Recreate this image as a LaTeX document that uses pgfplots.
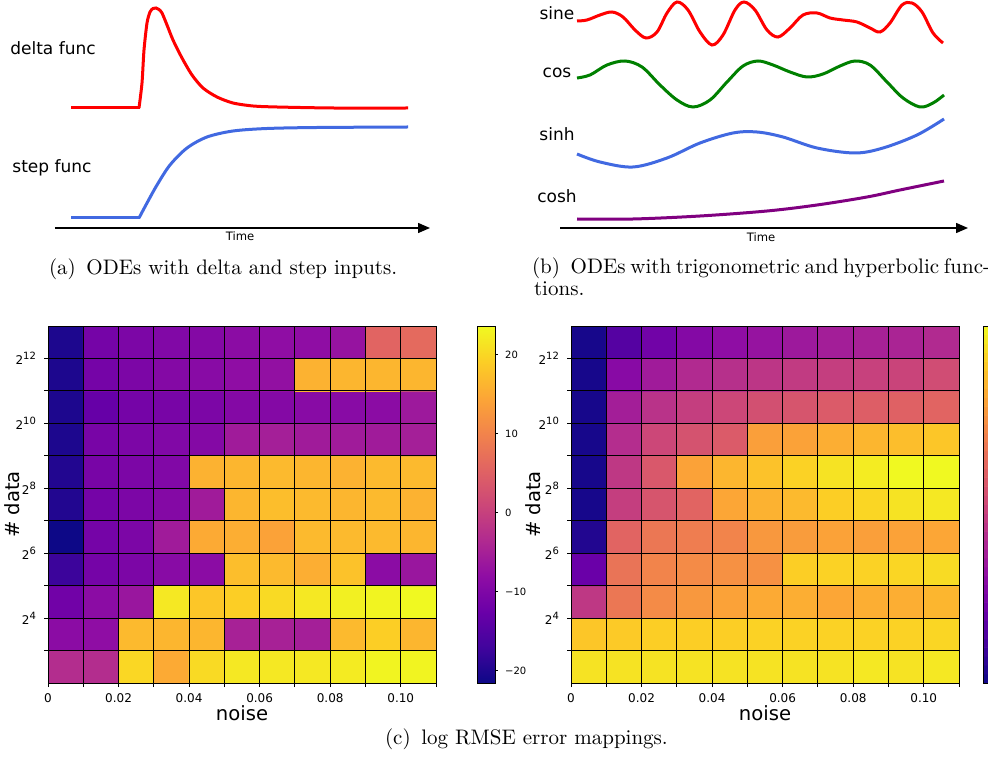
\documentclass[border=0pt]{standalone}
\usepackage{fontspec}
\usepackage{pgfplots}
\pgfplotsset{compat=1.18}
\usetikzlibrary{arrows.meta}
\newfontfamily\dv{DejaVu Sans}
\definecolor{royal}{RGB}{65,105,225}
\definecolor{dgreen}{RGB}{0,128,0}
\definecolor{purp}{RGB}{128,0,128}
\tikzset{
  lbl/.style={font=\dv\fontsize{8.5}{10}\selectfont},
  tlbl/.style={font=\dv\fontsize{5.8}{7}\selectfont},
}
\pgfplotsset{
  colormap={plasma}{rgb255=(13,8,135) rgb255=(65,4,157) rgb255=(106,0,168) rgb255=(143,13,164) rgb255=(177,42,144) rgb255=(204,71,120) rgb255=(225,100,98) rgb255=(242,132,75) rgb255=(252,166,54) rgb255=(252,206,37) rgb255=(240,249,33)},
  curvepanel/.style={scale only axis, height=114pt, ymin=0, ymax=228, clip=false,
    axis x line=bottom, axis y line=none, xtick=\empty, ytick=\empty,
    x axis line style={line width=0.7pt, -{Triangle[length=6pt,width=5pt]}}},
  heat/.style={scale only axis, width=194pt, height=178.5pt,
    xmin=0, xmax=0.11, ymin=2, ymax=13, axis on top, enlargelimits=false,
    xtick={0,0.02,0.04,0.06,0.08,0.10}, xticklabels={0,0.02,0.04,0.06,0.08,0.10},
    minor xtick={0.01,0.03,0.05,0.07,0.09,0.11},
    ytick={4,6,8,10,12},
    yticklabels={2\textsuperscript{4},2\textsuperscript{6},2\textsuperscript{8},2\textsuperscript{10},2\textsuperscript{12}},
    minor ytick={3,5,7,9,11},
    grid=both, grid style={black, line width=0.5pt}, minor grid style={black, line width=0.5pt},
    tick align=outside, xtick pos=left, ytick pos=left,
    major tick length=2pt, minor tick length=2pt,
    tick style={black, line width=0.5pt}, axis line style={line width=0.5pt},
    ticklabel style={font=\dv\fontsize{6}{7}\selectfont},
    xlabel={noise}, ylabel={\# data},
    label style={font=\dv\fontsize{9.8}{11}\selectfont},
    xlabel style={at={(axis description cs:0.5,-0.084)}, anchor=center}},
}
\begin{document}
\begin{tikzpicture}
\path[use as bounding box] (0,0) rectangle (494pt,-382pt);

% ---------- (a) ----------
\begin{axis}[curvepanel, at={(27.5pt,-114pt)}, anchor=south west, width=187.5pt, xmin=55, xmax=430]
\addplot[red, line width=1.5pt] coordinates {(71,120) (139.5,120)};
\addplot[red, line width=1.5pt, smooth, tension=0.45] coordinates {
(139,120) (142,145) (144,178) (147,205) (150,216) (153,219.5) (156,220) (159,218.5) (162,215)
(167,203) (173,188) (182,170) (192,153) (203,140) (217,131) (233,125) (253,122) (277,121) (333,120) (408,120)};
\addplot[royal, line width=1.5pt] coordinates {(71,10) (139.5,10)};
\addplot[royal, line width=1.5pt, smooth, tension=0.5] coordinates {
(139,10) (147,25) (157,43) (170,63) (187,80) (207,91) (233,97) (267,99.5) (317,100.5) (408,101)};
\node[lbl] at (axis cs:53,180) {delta func};
\node[lbl] at (axis cs:52,60) {step func};
\node[tlbl] at (axis cs:240,-8) {Time};
\end{axis}

% ---------- (b) ----------
\begin{axis}[curvepanel, at={(280pt,-114pt)}, anchor=south west, width=204pt, xmin=560, xmax=968]
\addplot[red, line width=1.5pt, smooth, tension=0.55] coordinates {
(577,207) (587,208) (600,213) (612,216) (623,211) (635,198) (646,190) (657,196) (667,215) (677,226)
(688,218) (700,196) (712,183) (723,193) (735,218) (744,226) (755,218) (767,198) (778,191) (790,200)
(803,213) (817,215) (830,210) (843,208) (857,206) (870,200) (880,196) (890,205) (902,223) (912,225)
(922,216) (933,195) (943,185)};
\addplot[dgreen, line width=1.5pt, smooth, tension=0.55] coordinates {
(577,150) (590,153) (607,163) (625,167) (642,161) (660,143) (677,128) (693,121) (710,128) (727,146)
(743,162) (758,167) (773,163) (790,156) (807,151) (823,154) (840,162) (855,167) (870,163) (887,146)
(903,130) (920,121) (933,125) (944,133)};
\addplot[royal, line width=1.5pt, smooth, tension=0.55] coordinates {
(577,74) (600,66) (633,61) (667,70) (700,85) (733,95) (757,96) (783,91) (817,80) (855,75) (883,80) (917,93) (944,109)};
\addplot[purp, line width=1.5pt, smooth, tension=0.55] coordinates {
(577,9) (633,9) (700,12) (767,17) (817,23) (867,31) (900,38) (944,47)};
\node[lbl] at (axis cs:557,215) {sine};
\node[lbl] at (axis cs:557,155) {cos};
\node[lbl] at (axis cs:557,94) {sinh};
\node[lbl] at (axis cs:557,32) {cosh};
\node[tlbl] at (axis cs:761,-9) {Time};
\end{axis}

\node[anchor=base west, font=\fontsize{10.5}{12}\selectfont] at (21pt,-137pt) {(a)\hspace{5.3pt}ODEs with delta and step inputs.};
\node[anchor=base west, font=\fontsize{10.5}{12}\selectfont] at (262.5pt,-136.5pt) {\makebox[229pt][s]{(b)\hspace{5.3pt}ODEs with trigonometric and hyperbolic func-}};
\node[anchor=base west, font=\fontsize{10.5}{12}\selectfont] at (263.5pt,-147.5pt) {tions.};

% ---------- (c) left ----------
\begin{axis}[heat, at={(24pt,-341.5pt)}, anchor=south west, colorbar,
  ylabel style={at={(axis description cs:-0.093,0.5)}, anchor=center},
  point meta min=-21.6, point meta max=23.6,
  colorbar style={at={(parent axis.north east)}, anchor=north west, xshift=12pt, width=9pt,
    ytick={-20,-10,0,10,20}, yticklabels={−20,−10,0,10,20},
    yticklabel style={font=\dv\fontsize{5}{6}\selectfont},
    major tick length=1.5pt, tick align=outside, ytick pos=right,
    axis line style={line width=0.5pt}, tick style={black, line width=0.5pt}}]
\addplot[matrix plot*, mesh/cols=11, point meta=explicit] table[x=x, y=y, meta=c, row sep=\\] {
x y c\\
0.005 2.5 -3.1\\ 0.015 2.5 -3.1\\ 0.025 2.5 20.0\\ 0.035 2.5 15.0\\ 0.045 2.5 20.4\\ 0.055 2.5 21.8\\ 0.065 2.5 21.8\\ 0.075 2.5 21.8\\ 0.085 2.5 22.2\\ 0.095 2.5 23.1\\ 0.105 2.5 23.1\\
0.005 3.5 -8.5\\ 0.015 3.5 -8.0\\ 0.025 3.5 16.8\\ 0.035 3.5 16.4\\ 0.045 3.5 16.4\\ 0.055 3.5 -4.9\\ 0.065 3.5 -4.9\\ 0.075 3.5 -5.3\\ 0.085 3.5 16.8\\ 0.095 3.5 19.1\\ 0.105 3.5 16.4\\
0.005 4.5 -11.7\\ 0.015 4.5 -8.5\\ 0.025 4.5 -6.7\\ 0.035 4.5 21.8\\ 0.045 4.5 18.2\\ 0.055 4.5 19.1\\ 0.065 4.5 20.4\\ 0.075 4.5 21.8\\ 0.085 4.5 22.7\\ 0.095 4.5 23.1\\ 0.105 4.5 23.6\\
0.005 5.5 -17.5\\ 0.015 5.5 -11.2\\ 0.025 5.5 -10.3\\ 0.035 5.5 -8.9\\ 0.045 5.5 -8.5\\ 0.055 5.5 17.3\\ 0.065 5.5 16.8\\ 0.075 5.5 15.5\\ 0.085 5.5 17.7\\ 0.095 5.5 -8.5\\ 0.105 5.5 -6.7\\
0.005 6.5 -21.6\\ 0.015 6.5 -11.2\\ 0.025 6.5 -10.3\\ 0.035 6.5 -5.8\\ 0.045 6.5 15.0\\ 0.055 6.5 15.5\\ 0.065 6.5 14.1\\ 0.075 6.5 16.8\\ 0.085 6.5 16.8\\ 0.095 6.5 16.8\\ 0.105 6.5 16.4\\
0.005 7.5 -19.8\\ 0.015 7.5 -11.2\\ 0.025 7.5 -10.3\\ 0.035 7.5 -9.4\\ 0.045 7.5 -5.8\\ 0.055 7.5 16.4\\ 0.065 7.5 17.3\\ 0.075 7.5 16.8\\ 0.085 7.5 16.4\\ 0.095 7.5 16.8\\ 0.105 7.5 15.9\\
0.005 8.5 -19.8\\ 0.015 8.5 -10.8\\ 0.025 8.5 -10.3\\ 0.035 8.5 -9.8\\ 0.045 8.5 15.9\\ 0.055 8.5 16.4\\ 0.065 8.5 16.8\\ 0.075 8.5 16.4\\ 0.085 8.5 15.9\\ 0.095 8.5 16.8\\ 0.105 8.5 16.8\\
0.005 9.5 -20.2\\ 0.015 9.5 -10.8\\ 0.025 9.5 -10.3\\ 0.035 9.5 -9.8\\ 0.045 9.5 -9.4\\ 0.055 9.5 -5.8\\ 0.065 9.5 -5.3\\ 0.075 9.5 -5.8\\ 0.085 9.5 -5.8\\ 0.095 9.5 -5.8\\ 0.105 9.5 -5.3\\
0.005 10.5 -20.2\\ 0.015 10.5 -13.0\\ 0.025 10.5 -11.2\\ 0.035 10.5 -10.8\\ 0.045 10.5 -10.3\\ 0.055 10.5 -9.4\\ 0.065 10.5 -9.4\\ 0.075 10.5 -8.9\\ 0.085 10.5 -8.9\\ 0.095 10.5 -8.5\\ 0.105 10.5 -6.2\\
0.005 11.5 -20.2\\ 0.015 11.5 -11.2\\ 0.025 11.5 -10.3\\ 0.035 11.5 -9.4\\ 0.045 11.5 -8.9\\ 0.055 11.5 -8.0\\ 0.065 11.5 -7.6\\ 0.075 11.5 15.9\\ 0.085 11.5 16.4\\ 0.095 11.5 16.4\\ 0.105 11.5 16.4\\
0.005 12.5 -20.2\\ 0.015 12.5 -11.2\\ 0.025 12.5 -10.3\\ 0.035 12.5 -9.8\\ 0.045 12.5 -9.4\\ 0.055 12.5 -8.5\\ 0.065 12.5 -8.0\\ 0.075 12.5 -8.0\\ 0.085 12.5 -7.1\\ 0.095 12.5 5.5\\ 0.105 12.5 6.4\\
};
\end{axis}

% ---------- (c) right ----------
\begin{axis}[heat, at={(285.5pt,-341.5pt)}, anchor=south west,
  ylabel style={at={(axis description cs:-0.098,0.5)}, anchor=center},
  point meta min=0, point meta max=1]
\addplot[matrix plot*, mesh/cols=11, point meta=explicit] table[x=x, y=y, meta=c, row sep=\\] {
x y c\\
0.005 2.5 0.95\\ 0.015 2.5 0.95\\ 0.025 2.5 0.95\\ 0.035 2.5 0.95\\ 0.045 2.5 0.95\\ 0.055 2.5 0.95\\ 0.065 2.5 0.95\\ 0.075 2.5 0.95\\ 0.085 2.5 0.96\\ 0.095 2.5 0.95\\ 0.105 2.5 0.96\\
0.005 3.5 0.88\\ 0.015 3.5 0.89\\ 0.025 3.5 0.90\\ 0.035 3.5 0.90\\ 0.045 3.5 0.90\\ 0.055 3.5 0.91\\ 0.065 3.5 0.91\\ 0.075 3.5 0.91\\ 0.085 3.5 0.91\\ 0.095 3.5 0.91\\ 0.105 3.5 0.92\\
0.005 4.5 0.45\\ 0.015 4.5 0.66\\ 0.025 4.5 0.72\\ 0.035 4.5 0.76\\ 0.045 4.5 0.79\\ 0.055 4.5 0.81\\ 0.065 4.5 0.82\\ 0.075 4.5 0.80\\ 0.085 4.5 0.82\\ 0.095 4.5 0.82\\ 0.105 4.5 0.84\\
0.005 5.5 0.20\\ 0.015 5.5 0.65\\ 0.025 5.5 0.70\\ 0.035 5.5 0.72\\ 0.045 5.5 0.74\\ 0.055 5.5 0.74\\ 0.065 5.5 0.90\\ 0.075 5.5 0.91\\ 0.085 5.5 0.91\\ 0.095 5.5 0.92\\ 0.105 5.5 0.93\\
0.005 6.5 0.04\\ 0.015 6.5 0.60\\ 0.025 6.5 0.66\\ 0.035 6.5 0.68\\ 0.045 6.5 0.70\\ 0.055 6.5 0.76\\ 0.065 6.5 0.77\\ 0.075 6.5 0.79\\ 0.085 6.5 0.78\\ 0.095 6.5 0.79\\ 0.105 6.5 0.80\\
0.005 7.5 0.02\\ 0.015 7.5 0.47\\ 0.025 7.5 0.55\\ 0.035 7.5 0.60\\ 0.045 7.5 0.80\\ 0.055 7.5 0.83\\ 0.065 7.5 0.85\\ 0.075 7.5 0.90\\ 0.085 7.5 0.92\\ 0.095 7.5 0.95\\ 0.105 7.5 0.96\\
0.005 8.5 0.02\\ 0.015 8.5 0.45\\ 0.025 8.5 0.56\\ 0.035 8.5 0.79\\ 0.045 8.5 0.84\\ 0.055 8.5 0.87\\ 0.065 8.5 0.91\\ 0.075 8.5 0.95\\ 0.085 8.5 0.97\\ 0.095 8.5 1.00\\ 0.105 8.5 1.00\\
0.005 9.5 0.02\\ 0.015 9.5 0.41\\ 0.025 9.5 0.50\\ 0.035 9.5 0.54\\ 0.045 9.5 0.57\\ 0.055 9.5 0.78\\ 0.065 9.5 0.79\\ 0.075 9.5 0.82\\ 0.085 9.5 0.84\\ 0.095 9.5 0.86\\ 0.105 9.5 0.88\\
0.005 10.5 0.02\\ 0.015 10.5 0.36\\ 0.025 10.5 0.43\\ 0.035 10.5 0.47\\ 0.045 10.5 0.50\\ 0.055 10.5 0.53\\ 0.065 10.5 0.55\\ 0.075 10.5 0.57\\ 0.085 10.5 0.58\\ 0.095 10.5 0.59\\ 0.105 10.5 0.60\\
0.005 11.5 0.02\\ 0.015 11.5 0.28\\ 0.025 11.5 0.35\\ 0.035 11.5 0.40\\ 0.045 11.5 0.42\\ 0.055 11.5 0.44\\ 0.065 11.5 0.46\\ 0.075 11.5 0.47\\ 0.085 11.5 0.48\\ 0.095 11.5 0.49\\ 0.105 11.5 0.52\\
0.005 12.5 0.02\\ 0.015 12.5 0.15\\ 0.025 12.5 0.22\\ 0.035 12.5 0.27\\ 0.045 12.5 0.30\\ 0.055 12.5 0.32\\ 0.065 12.5 0.34\\ 0.075 12.5 0.36\\ 0.085 12.5 0.37\\ 0.095 12.5 0.38\\ 0.105 12.5 0.40\\
};
\end{axis}

% ---------- right colour bar (only its left edge lies on the page) ----------
\begin{axis}[at={(491.5pt,-341.5pt)}, anchor=south west, scale only axis, width=9pt, height=178.5pt,
  xmin=0, xmax=1, ymin=0, ymax=1, xtick=\empty, ytick=\empty, enlargelimits=false,
  axis on top, axis line style={line width=0.5pt}, point meta min=0, point meta max=1]
\addplot[matrix plot*, mesh/cols=2, point meta=explicit] table[x=x, y=y, meta=c, row sep=\\] {
x y c\\
0.25 0.0125 0.0125\\ 0.75 0.0125 0.0125\\
0.25 0.0375 0.0375\\ 0.75 0.0375 0.0375\\
0.25 0.0625 0.0625\\ 0.75 0.0625 0.0625\\
0.25 0.0875 0.0875\\ 0.75 0.0875 0.0875\\
0.25 0.1125 0.1125\\ 0.75 0.1125 0.1125\\
0.25 0.1375 0.1375\\ 0.75 0.1375 0.1375\\
0.25 0.1625 0.1625\\ 0.75 0.1625 0.1625\\
0.25 0.1875 0.1875\\ 0.75 0.1875 0.1875\\
0.25 0.2125 0.2125\\ 0.75 0.2125 0.2125\\
0.25 0.2375 0.2375\\ 0.75 0.2375 0.2375\\
0.25 0.2625 0.2625\\ 0.75 0.2625 0.2625\\
0.25 0.2875 0.2875\\ 0.75 0.2875 0.2875\\
0.25 0.3125 0.3125\\ 0.75 0.3125 0.3125\\
0.25 0.3375 0.3375\\ 0.75 0.3375 0.3375\\
0.25 0.3625 0.3625\\ 0.75 0.3625 0.3625\\
0.25 0.3875 0.3875\\ 0.75 0.3875 0.3875\\
0.25 0.4125 0.4125\\ 0.75 0.4125 0.4125\\
0.25 0.4375 0.4375\\ 0.75 0.4375 0.4375\\
0.25 0.4625 0.4625\\ 0.75 0.4625 0.4625\\
0.25 0.4875 0.4875\\ 0.75 0.4875 0.4875\\
0.25 0.5125 0.5125\\ 0.75 0.5125 0.5125\\
0.25 0.5375 0.5375\\ 0.75 0.5375 0.5375\\
0.25 0.5625 0.5625\\ 0.75 0.5625 0.5625\\
0.25 0.5875 0.5875\\ 0.75 0.5875 0.5875\\
0.25 0.6125 0.6125\\ 0.75 0.6125 0.6125\\
0.25 0.6375 0.6375\\ 0.75 0.6375 0.6375\\
0.25 0.6625 0.6625\\ 0.75 0.6625 0.6625\\
0.25 0.6875 0.6875\\ 0.75 0.6875 0.6875\\
0.25 0.7125 0.7125\\ 0.75 0.7125 0.7125\\
0.25 0.7375 0.7375\\ 0.75 0.7375 0.7375\\
0.25 0.7625 0.7625\\ 0.75 0.7625 0.7625\\
0.25 0.7875 0.7875\\ 0.75 0.7875 0.7875\\
0.25 0.8125 0.8125\\ 0.75 0.8125 0.8125\\
0.25 0.8375 0.8375\\ 0.75 0.8375 0.8375\\
0.25 0.8625 0.8625\\ 0.75 0.8625 0.8625\\
0.25 0.8875 0.8875\\ 0.75 0.8875 0.8875\\
0.25 0.9125 0.9125\\ 0.75 0.9125 0.9125\\
0.25 0.9375 0.9375\\ 0.75 0.9375 0.9375\\
0.25 0.9625 0.9625\\ 0.75 0.9625 0.9625\\
0.25 0.9875 0.9875\\ 0.75 0.9875 0.9875\\
};
\end{axis}

\node[anchor=base west, font=\fontsize{10.5}{12}\selectfont] at (189pt,-372pt) {(c)\hspace{5.3pt}log RMSE error mappings.};
\end{tikzpicture}
\end{document}
